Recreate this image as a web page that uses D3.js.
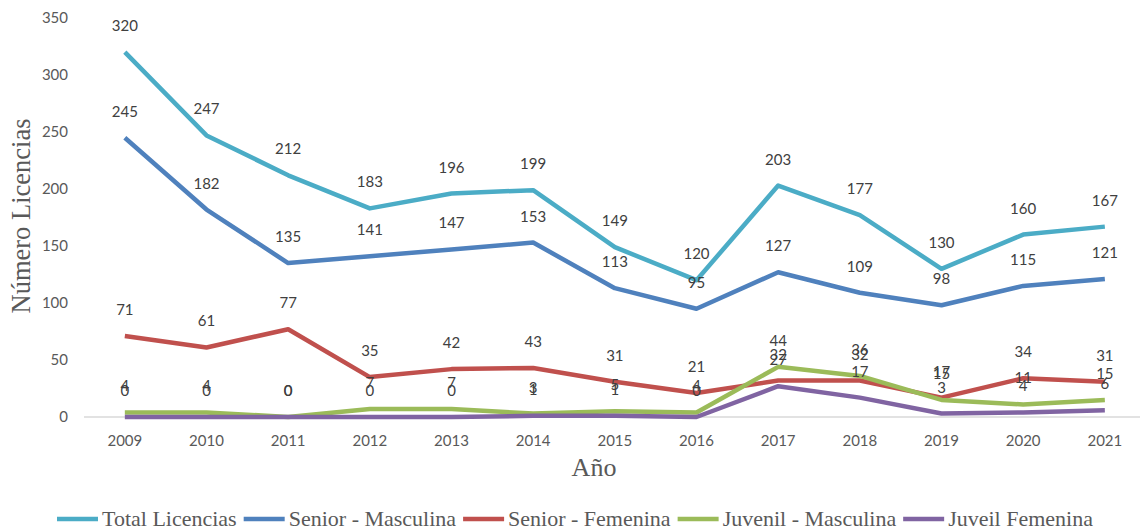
<!DOCTYPE html>
<html>
<head>
<meta charset="utf-8">
<script src="https://cdn.jsdelivr.net/npm/d3@7"></script>
<style>
  body { margin: 0; background: #fff; }
  svg { display: block; }
</style>
</head>
<body>
<svg id="chart"></svg>
<script>
const years = [2009, 2010, 2011, 2012, 2013, 2014, 2015, 2016, 2017, 2018, 2019, 2020, 2021];
const totalLicencias = [320, 247, 212, 183, 196, 199, 149, 120, 203, 177, 130, 160, 167];
const seniorMasculina = [245, 182, 135, 141, 147, 153, 113, 95, 127, 109, 98, 115, 121];
const seniorFemenina = [71, 61, 77, 35, 42, 43, 31, 21, 32, 32, 17, 34, 31];
const juvenilMasculina = [4, 4, 0, 7, 7, 3, 5, 4, 44, 36, 15, 11, 15];
const juveilFemenina = [0, 0, 0, 0, 0, 1, 1, 0, 27, 17, 3, 4, 6];
const seriesNames = ["Total Licencias", "Senior - Masculina", "Senior - Femenina", "Juvenil - Masculina", "Juveil Femenina"];
const yTicks = [0, 50, 100, 150, 200, 250, 300, 350];

const colors = ["#4BACC6", "#4F81BD", "#C0504D", "#9BBB59", "#8064A2"];
const series = [totalLicencias, seniorMasculina, seniorFemenina, juvenilMasculina, juveilFemenina]
  .map((vals, i) => ({ name: seriesNames[i], color: colors[i], values: vals }));

const width = 1140, height = 531;
const svg = d3.select("#chart").attr("width", width).attr("height", height);

// category axis: bands so each year sits in the middle of its slot
const x = d3.scaleBand().domain(years).range([84, 1064 + 81.67]);
const cx = d => x(d) + x.bandwidth() / 2;
const y = d3.scaleLinear().domain([0, 350]).range([417, 18]);

const numFont = "Lato, 'Open Sans', sans-serif";
const serif = "'Liberation Serif', 'Times New Roman', serif";

// y axis labels only
const yAxis = svg.append("g")
  .attr("transform", "translate(68,0)")
  .call(d3.axisLeft(y).tickValues(yTicks).tickSize(0).tickPadding(0));
yAxis.select(".domain").remove();
yAxis.selectAll("text")
  .attr("font-family", numFont).attr("font-size", 15).attr("fill", "#595959");

// x axis line + labels
svg.append("line")
  .attr("x1", 84).attr("x2", width).attr("y1", y(0)).attr("y2", y(0))
  .attr("stroke", "#d9d9d9").attr("stroke-width", 1.5);
const xAxis = svg.append("g")
  .attr("transform", `translate(0,${y(0)})`)
  .call(d3.axisBottom(x).tickSize(0).tickPadding(18));
xAxis.select(".domain").remove();
xAxis.selectAll("text")
  .attr("font-family", numFont).attr("font-size", 15).attr("fill", "#595959");

// axis titles
svg.append("text")
  .attr("transform", "translate(30,216) rotate(-90)")
  .attr("text-anchor", "middle")
  .attr("font-family", serif).attr("font-size", 26.5).attr("fill", "#595959")
  .text("Número Licencias");
svg.append("text")
  .attr("x", 594).attr("y", 476)
  .attr("text-anchor", "middle")
  .attr("font-family", serif).attr("font-size", 26).attr("fill", "#595959")
  .text("Año");

// lines
const line = d3.line().x((d, i) => cx(years[i])).y(d => y(d));
svg.append("g").selectAll("path")
  .data(series)
  .join("path")
  .attr("fill", "none")
  .attr("stroke", d => d.color)
  .attr("stroke-width", 4.5)
  .attr("stroke-linejoin", "round")
  .attr("d", d => line(d.values));

// data labels above points
const lbl = svg.append("g");
series.forEach(s => {
  lbl.selectAll(null)
    .data(s.values)
    .join("text")
    .attr("x", (d, i) => cx(years[i]))
    .attr("y", d => y(d) - 21)
    .attr("text-anchor", "middle")
    .attr("font-family", numFont).attr("font-size", 15).attr("fill", "#404040")
    .text(d => d);
});

// legend
const leg = svg.append("g").attr("transform", "translate(0,519)");
let lx = 57;
series.forEach(s => {
  const g = leg.append("g");
  g.append("line")
    .attr("x1", lx).attr("x2", lx + 41).attr("y1", 0).attr("y2", 0)
    .attr("stroke", s.color).attr("stroke-width", 4.5);
  const t = g.append("text")
    .attr("x", lx + 45).attr("y", 7)
    .attr("font-family", serif).attr("font-size", 22).attr("fill", "#595959")
    .text(s.name);
  lx += 45 + t.node().getComputedTextLength() + 7;
});
</script>
</body>
</html>
